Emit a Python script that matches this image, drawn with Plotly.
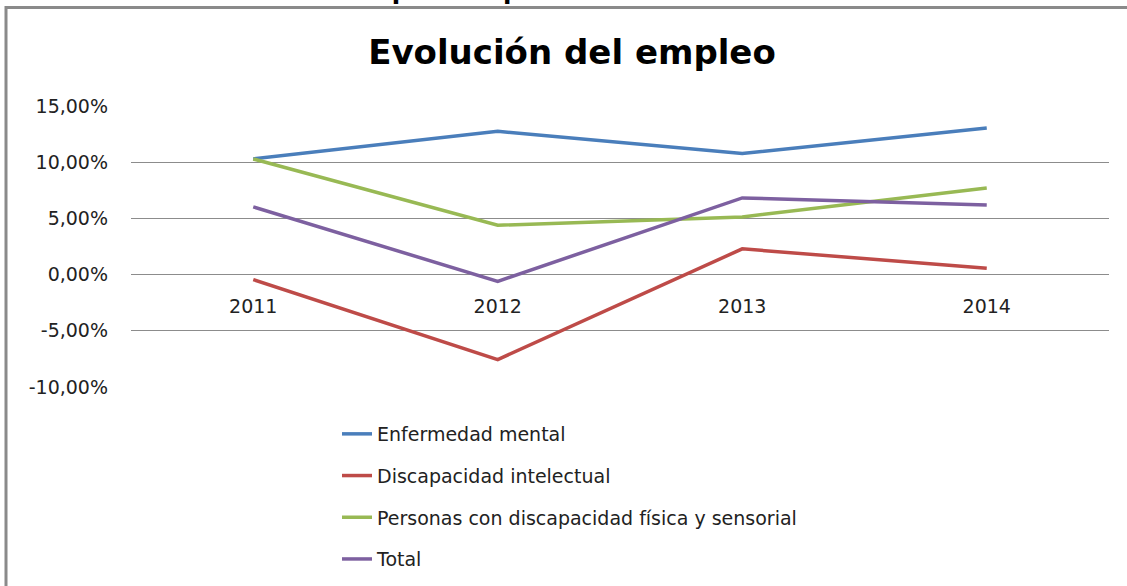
import plotly.graph_objects as go

years = ["2011", "2012", "2013", "2014"]
enfermedad_mental = [10.29, 12.75, 10.77, 13.05]
discapacidad_intelectual = [-0.44, -7.56, 2.29, 0.56]
fisica_sensorial = [10.29, 4.39, 5.13, 7.71]
total = [6.02, -0.60, 6.82, 6.20]

series_names = ["Enfermedad mental", "Discapacidad intelectual",
                "Personas con discapacidad física y sensorial", "Total"]
series_values = [enfermedad_mental, discapacidad_intelectual, fisica_sensorial, total]
colors = ["#4A7EBB", "#BE4B48", "#98B954", "#7D60A0"]

ytick_vals = [-10, -5, 0, 5, 10, 15]
ytick_text = ["-10,00%", "-5,00%", "0,00%", "5,00%", "10,00%", "15,00%"]

# figure is slightly taller than the 586px window so the legend never pushes margins
W, H = 1127, 610
L, R, T, B = 131, 18, 106, 0
plot_bottom = 387.0
pw, ph = W - L - R, H - T - B

def px(x):
    return (x - L) / pw

def py(y):
    return (H - B - y) / ph

fig = go.Figure()
for i, (name, vals, col) in enumerate(zip(series_names, series_values, colors)):
    fig.add_trace(go.Scatter(x=years, y=vals, mode="lines", name=name,
                             legendgroup=str(i),
                             line=dict(color=col, width=3.5)))

font = "DejaVu Sans, sans-serif"
fig.update_layout(
    width=W, height=H,
    margin=dict(l=L, r=R, t=T, b=B, autoexpand=False),
    paper_bgcolor="white", plot_bgcolor="white",
    title=dict(text="<b>Evolución del empleo</b>", x=572 / W, xanchor="center",
               y=1 - 52 / H, yanchor="middle",
               font=dict(family=font, size=34, color="black")),
    showlegend=True,
    legend=dict(x=px(337), y=py(415), xanchor="left", yanchor="top",
                font=dict(family=font, size=19, color="#222"),
                tracegroupgap=14, bgcolor="rgba(0,0,0,0)"),
    xaxis=dict(type="category", range=[-0.5, 3.5], showgrid=False,
               showline=False, zeroline=False, ticks="", automargin=False,
               anchor="free", position=py(274.5),
               ticklabelstandoff=18,
               tickfont=dict(family=font, size=19, color="#222")),
    yaxis=dict(range=[-10, 15], domain=[py(plot_bottom), 1],
               tickvals=ytick_vals, ticktext=ytick_text, automargin=False,
               showgrid=True, gridcolor="#8c8c8c", gridwidth=1,
               zeroline=False, showline=False, ticks="",
               ticklabelstandoff=22,
               tickfont=dict(family=font, size=19, color="#222")),
)

# outer chart frame (left and top edges visible)
fig.add_shape(type="rect", xref="paper", yref="paper",
              x0=px(6), x1=px(1160), y0=py(640), y1=py(7.5),
              line=dict(color="#8a8a8a", width=3), fillcolor="rgba(0,0,0,0)", layer="below")

# cut-off heading at very top of page
fig.add_annotation(text="<b>Gráfico 3. Variación del empleo respecto al año anterior</b>",
                   xref="paper", yref="paper", x=px(18), y=py(7.5), xanchor="left", yanchor="bottom",
                   showarrow=False, font=dict(family=font, size=24.5, color="black"))

fig.write_html("out.html", config={"displayModeBar": False},
               post_script="document.body.style.margin='0';document.body.style.overflow='hidden';")
